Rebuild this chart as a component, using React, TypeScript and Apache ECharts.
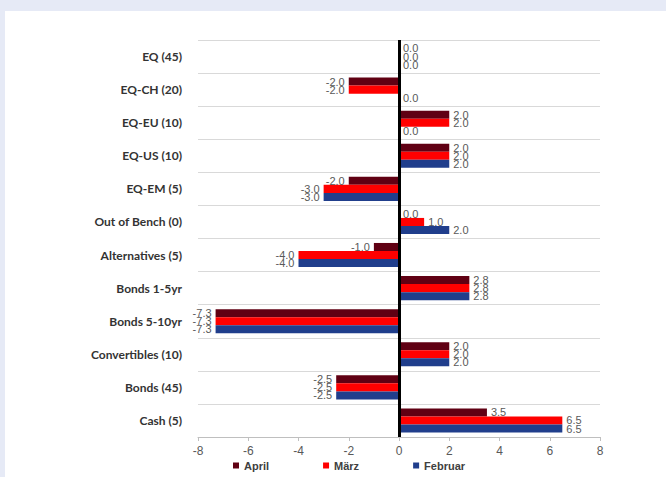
import React, { useEffect, useRef } from "react";
import * as echarts from "echarts";

const categories = [
  "EQ (45)",
  "EQ-CH (20)",
  "EQ-EU (10)",
  "EQ-US (10)",
  "EQ-EM (5)",
  "Out of Bench (0)",
  "Alternatives (5)",
  "Bonds 1-5yr",
  "Bonds 5-10yr",
  "Convertibles (10)",
  "Bonds (45)",
  "Cash (5)",
];

const april = [0.0, -2.0, 2.0, 2.0, -2.0, 0.0, -1.0, 2.8, -7.3, 2.0, -2.5, 3.5];
const maerz = [0.0, -2.0, 2.0, 2.0, -3.0, 1.0, -4.0, 2.8, -7.3, 2.0, -2.5, 6.5];
const februar = [0.0, 0.0, 0.0, 2.0, -3.0, 2.0, -4.0, 2.8, -7.3, 2.0, -2.5, 6.5];

const seriesNames = ["April", "März", "Februar"];
const seriesColors = ["#600013", "#FF0000", "#203E8C"];
const seriesValues = [april, maerz, februar];

const xTicks = { min: -8, max: 8, interval: 2 };

export default function App() {
  const ref = useRef<HTMLDivElement>(null);

  useEffect(() => {
    if (!ref.current) return;
    const chart = echarts.init(ref.current, undefined, { renderer: "svg" });

    const series: any[] = seriesValues.map((vals, i) => ({
      name: seriesNames[i],
      type: "bar",
      barGap: "0%",
      barCategoryGap: "27%",
      itemStyle: { color: seriesColors[i] },
      data: vals.map((v) => ({
        value: v,
        label: {
          show: true,
          position: v < 0 ? "left" : "right",
          distance: 4,
          color: "#595959",
          fontSize: 11,
          fontFamily: "'Liberation Sans Narrow', 'Liberation Sans', Arial, sans-serif",
          formatter: (p: any) => Number(p.value).toFixed(1),
        },
      })),
      ...(i === 0
        ? {
            markLine: {
              silent: true,
              symbol: "none",
              label: { show: false },
              lineStyle: { color: "#000", width: 3, type: "solid" },
              data: [{ xAxis: 0 }],
            },
          }
        : {}),
    }));

    chart.setOption({
      animation: false,
      backgroundColor: "#E6EAF6",
      graphic: [
        {
          type: "rect",
          left: 5,
          top: 11,
          z: -10,
          shape: { width: 661, height: 466 },
          style: { fill: "#FFFFFF" },
        },
      ],
      grid: { left: 198, right: 66, top: 40, bottom: 40 },
      legend: {
        data: seriesNames,
        left: 233,
        top: 460,
        padding: 0,
        icon: "rect",
        itemWidth: 6,
        itemHeight: 6,
        itemGap: 54,
        textStyle: {
          color: "#404040",
          fontSize: 11,
          fontWeight: "bold",
          fontFamily: "'Liberation Sans', Arial, sans-serif",
        },
      },
      xAxis: {
        type: "value",
        min: xTicks.min,
        max: xTicks.max,
        interval: xTicks.interval,
        axisLine: { show: true, lineStyle: { color: "#BFBFBF", width: 1 } },
        axisTick: { show: true, length: 4, lineStyle: { color: "#BFBFBF" } },
        splitLine: { show: false },
        axisLabel: {
          color: "#595959",
          fontSize: 12,
          margin: 8,
          fontFamily: "'Liberation Sans', Arial, sans-serif",
        },
      },
      yAxis: {
        type: "category",
        data: categories,
        inverse: true,
        axisLine: { show: false },
        axisTick: { show: false },
        splitLine: { show: true, lineStyle: { color: "#D9D9D9", width: 1 } },
        axisLabel: {
          color: "#333333",
          fontSize: 12,
          fontWeight: "bold",
          margin: 16,
          fontFamily: "Lato, 'Open Sans', sans-serif",
        },
      },
      series,
    });

    return () => chart.dispose();
  }, []);

  return (
    <div
      ref={ref}
      style={{ position: "fixed", left: 0, top: 0, width: 666, height: 477 }}
    />
  );
}
